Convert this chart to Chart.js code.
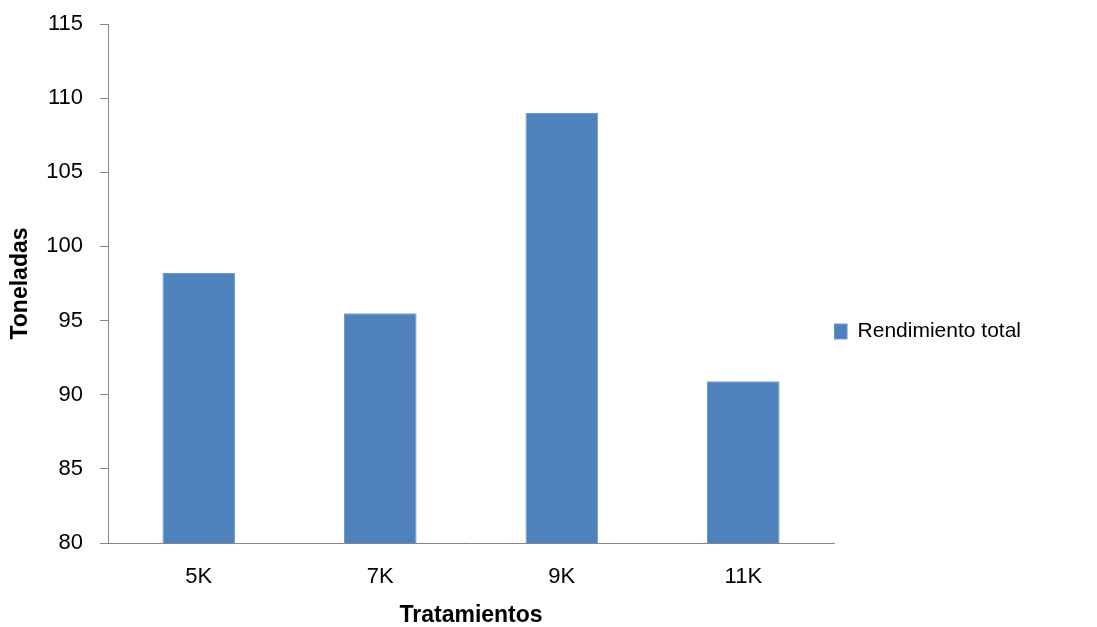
<!DOCTYPE html>
<html>
<head>
<meta charset="utf-8">
<script src="https://cdn.jsdelivr.net/npm/chart.js@4.4.0/dist/chart.umd.min.js"></script>
<style>
  html, body { margin: 0; padding: 0; background: #fff; }
  #wrap { width: 1097px; height: 627px; }
</style>
</head>
<body>
<div id="wrap"><canvas id="grafico"></canvas></div>
<script>
// datos
var tratamientos = ['5K', '7K', '9K', '11K'];
var rendimiento = [98.2, 95.5, 109, 90.9];
var serieNombre = 'Rendimiento total';
var ejeY = { min: 80, max: 115, paso: 5 };

var gris = '#868686';
var fuente = "'Liberation Sans', Arial, sans-serif";

const ctx = document.getElementById('grafico');
new Chart(ctx, {
	type: 'bar',
	data: {
		labels: tratamientos,
		datasets: [{
			label: serieNombre,
			data: rendimiento,
			backgroundColor: '#4F81BD',
			borderColor: '#6E9AD0',
			borderWidth: 1,
			categoryPercentage: 1,
			barPercentage: 0.4
		}]
	},
	options: {
		responsive: true,
		maintainAspectRatio: false,
		animation: false,
		layout: {
			padding: { top: 24, right: 66, bottom: 0, left: 0 }
		},
		font: { family: fuente },
		plugins: {
			tooltip: { enabled: false },
			legend: {
				position: 'right',
				title: {
					display: true,
					text: ' ',
					padding: 0,
					font: { family: fuente, size: 12, lineHeight: 1 }
				},
				labels: {
					boxWidth: 13,
					boxHeight: 15,
					padding: 0,
					color: '#000',
					font: { family: fuente, size: 21 }
				}
			}
		},
		scales: {
			x: {
				grid: { display: false, drawTicks: false },
				border: { color: gris, width: 1 },
				ticks: {
					color: '#000',
					padding: 21,
					font: { family: fuente, size: 22 }
				},
				title: {
					display: true,
					text: 'Tratamientos',
					color: '#000',
					font: { family: fuente, size: 23, weight: 'bold', lineHeight: 1 },
					padding: 0
				},
				afterFit: function(scale) { scale.height = 84; }
			},
			y: {
				min: ejeY.min,
				max: ejeY.max,
				grid: {
					drawOnChartArea: false,
					drawTicks: true,
					tickLength: 8,
					color: gris
				},
				border: { color: gris, width: 1 },
				ticks: {
					stepSize: ejeY.paso,
					color: '#000',
					padding: 17,
					font: { family: fuente, size: 22 }
				},
				title: {
					display: true,
					text: 'Toneladas',
					color: '#000',
					font: { family: fuente, size: 23, weight: 'bold', lineHeight: 1 },
					padding: { top: 9, bottom: 0 }
				},
				afterFit: function(scale) {
					scale.width = 108;
					scale.paddingTop = 0;
					scale.paddingBottom = 0;
				}
			}
		}
	}
});
</script>
</body>
</html>
